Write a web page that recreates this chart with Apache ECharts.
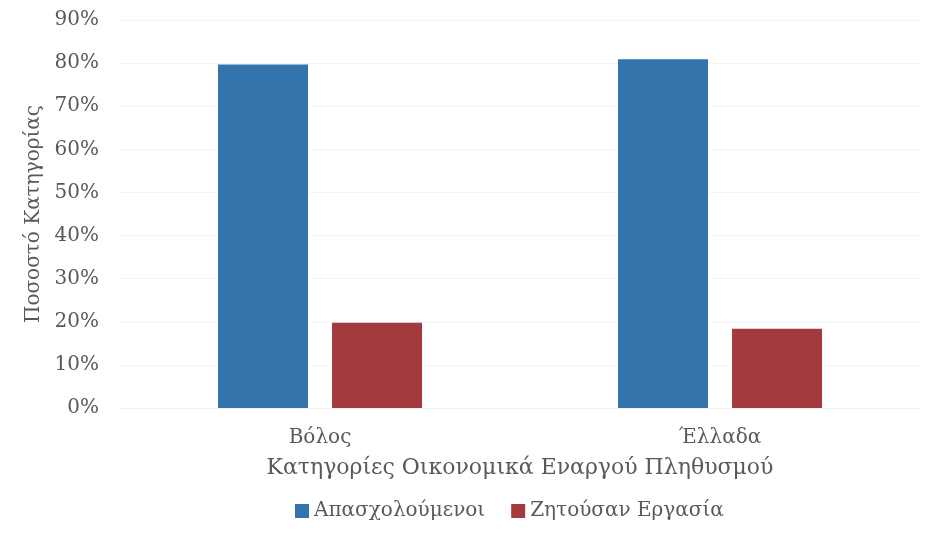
<!DOCTYPE html>
<html>
<head>
<meta charset="utf-8">
<script src="https://cdn.jsdelivr.net/npm/echarts@6/dist/echarts.min.js"></script>
<style>
  html, body { margin: 0; padding: 0; background: #ffffff; }
  #chart { width: 938px; height: 537px; }
</style>
</head>
<body>
<div id="chart"></div>
<script>
// Economically active population: employed vs. job seekers (share of category)
const categories = ['Βόλος', 'Έλλαδα'];
const employed = [79.7, 80.9];      // Απασχολούμενοι
const jobSeekers = [19.8, 18.4];    // Ζητούσαν Εργασία
const yTicks = [0, 10, 20, 30, 40, 50, 60, 70, 80, 90];

const FONT = 'DejaVu Serif';
const TEXT = '#595959';

const chart = echarts.init(document.getElementById('chart'), null, { renderer: 'canvas' });
chart.setOption({
  animation: false,
  backgroundColor: '#ffffff',
  textStyle: { fontFamily: FONT, color: TEXT },
  grid: { left: 120, right: 18, top: 20, bottom: 129, containLabel: false },
  legend: {
    bottom: 11,
    left: 290,
    icon: 'rect',
    itemWidth: 14,
    itemHeight: 14,
    itemGap: 26,
    textStyle: { fontFamily: FONT, fontSize: 20, color: TEXT },
    data: ['Απασχολούμενοι', 'Ζητούσαν Εργασία']
  },
  xAxis: {
    type: 'category',
    data: categories,
    name: 'Κατηγορίες Οικονομικά Εναργού Πληθυσμού',
    nameLocation: 'middle',
    nameGap: 49,
    nameTextStyle: { fontFamily: FONT, fontSize: 22, color: TEXT },
    axisLine: { show: true, lineStyle: { color: '#f0f0f0' } },
    axisTick: { show: false },
    axisLabel: { margin: 20, fontFamily: FONT, fontSize: 20, color: TEXT }
  },
  yAxis: {
    type: 'value',
    min: yTicks[0],
    max: yTicks[yTicks.length - 1],
    interval: 10,
    name: 'Ποσοστό Κατηγορίας',
    nameLocation: 'middle',
    nameGap: 74,
    nameTextStyle: { fontFamily: FONT, fontSize: 20, color: TEXT },
    axisLine: { show: false },
    axisTick: { show: false },
    splitLine: { show: true, lineStyle: { color: '#f5f5f5', width: 1 } },
    axisLabel: {
      margin: 21,
      padding: [4, 0, 0, 0],
      fontFamily: FONT,
      fontSize: 20,
      color: TEXT,
      formatter: '{value}%'
    }
  },
  series: [
    {
      name: 'Απασχολούμενοι',
      type: 'bar',
      data: employed,
      barWidth: 90,
      barGap: '26.7%',
      itemStyle: { color: '#3474ad' }
    },
    {
      name: 'Ζητούσαν Εργασία',
      type: 'bar',
      data: jobSeekers,
      barWidth: 90,
      barGap: '26.7%',
      itemStyle: { color: '#a33b3e' }
    }
  ]
});
</script>
</body>
</html>
